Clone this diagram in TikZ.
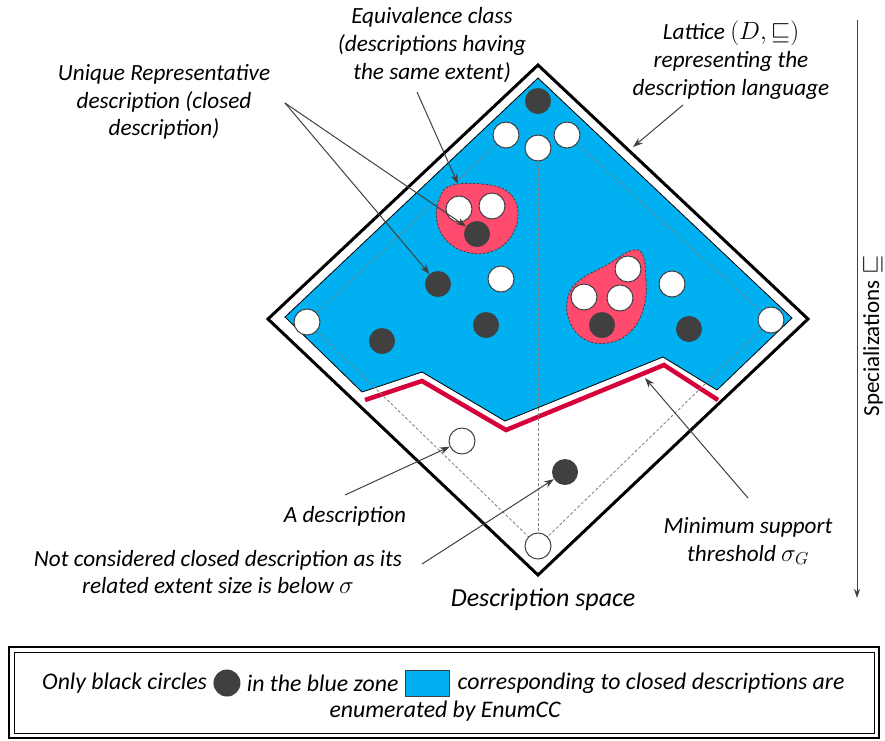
\documentclass[tikz,border=0pt]{standalone}
\usepackage{fontspec}
\setmainfont{Carlito}
\usetikzlibrary{arrows.meta,positioning}
\definecolor{dgray}{HTML}{404040}
\definecolor{skyb}{HTML}{00B0F0}
\definecolor{blobred}{HTML}{FF4B6E}
\definecolor{linered}{HTML}{D6003A}
\tikzset{
  wc/.style={circle, draw=dgray, fill=white, line width=1pt, minimum size=26pt, inner sep=0pt},
  bc/.style={circle, fill=dgray, minimum size=26pt, inner sep=0pt},
  lab/.style={font=\itshape\fontsize{23.2}{27.8}\selectfont, align=center, inner sep=0pt},
  leg/.style={font=\itshape\fontsize{23.8}{27.8}\selectfont, align=center, inner sep=0pt},
  arr/.style={draw=dgray, line width=1pt, -{Stealth[length=10pt,width=7pt]}},
  dl/.style={draw=gray, line width=0.8pt, dash pattern=on 3pt off 2pt},
}
\begin{document}
\begin{tikzpicture}[x=1pt,y=-1pt]
\useasboundingbox (0,0) rectangle (885,740);
% circle centres
\coordinate (pBt) at (538,101);
\coordinate (pW1) at (506,135);
\coordinate (pW2) at (538,148);
\coordinate (pW3) at (567,135);
\coordinate (pWL) at (307,322);
\coordinate (pWR) at (771,320);
\coordinate (pWB) at (538,546);
% outer diamond
\draw[line width=3pt, line join=miter] (538,65) -- (808,319) -- (538,575) -- (268,319) -- cycle;
% blue zone
\filldraw[fill=skyb, draw=black, line width=0.8pt] (538,78) -- (792,318) -- (717,390) -- (663,357) -- (505,421) -- (422,372) -- (362,392) -- (285,317) -- cycle;
% red threshold line
\draw[linered, line width=4.5pt] (365,400) -- (422,381) -- (506,430) -- (664,365) -- (718,400);
% dashed lattice lines
\draw[dl] (pW1) -- (pWL) -- (pWB) -- (pWR) -- (pW3);
\draw[dl] (pW2) -- (pWB);
% equivalence blobs
\draw[fill=blobred, draw=dgray, line width=0.8pt, dash pattern=on 2.5pt off 1.5pt]
  plot[smooth cycle, tension=0.7] coordinates {(450,186) (482,184) (508,192) (518,213) (510,238) (490,252) (466,252) (446,240) (437,221) (439,200)};
\draw[fill=blobred, draw=dgray, line width=0.8pt, dash pattern=on 2.5pt off 1.5pt]
  plot[smooth cycle, tension=0.7] coordinates {(638,250) (646,280) (643,310) (630,332) (608,343) (584,339) (569,320) (568,297) (580,280) (605,266)};
% circles
\node[bc] (bt) at (pBt) {};
\node[wc] (w1) at (pW1) {};
\node[wc] (w2) at (pW2) {};
\node[wc] (w3) at (pW3) {};
\node[wc] (e1) at (459,209) {};
\node[wc] (e2) at (492,206) {};
\node[bc] (e3) at (477,234) {};
\node[bc] (b1) at (438,284) {};
\node[wc] (w4) at (501,279) {};
\node[wc] (wl) at (pWL) {};
\node[bc] (b2) at (382,341) {};
\node[bc] (b3) at (486,325) {};
\node[wc] (f1) at (628,269) {};
\node[wc] (f2) at (584,297) {};
\node[wc] (f3) at (620,298) {};
\node[bc] (f4) at (602,325) {};
\node[wc] (w5) at (672,284) {};
\node[bc] (b4) at (689,329) {};
\node[wc] (wr) at (pWR) {};
\node[wc] (w6) at (462,441) {};
\node[bc] (b5) at (565,472) {};
\node[wc] (wb) at (pWB) {};
% labels
\node[lab] (lequiv) at (432,45) {Equivalence class\\(descriptions having\\the same extent)};
\node[lab] (luniq) at (164,102) {Unique Representative\\description (closed\\description)};
\node[lab] (llat) at (731,60) {Lattice $(D,\sqsubseteq)$\\representing the\\description language};
\node[lab] (ldesc) at (345,516) {A description};
\node[lab] (lnot) at (218,572) {Not considered closed description as its\\related extent size is below $\sigma$};
\node[lab] (lmin) at (748,541) {Minimum support\\threshold $\sigma_G$};
\node[lab, font=\itshape\fontsize{26}{30}\selectfont] (lspace) at (543,600) {Description space};
% arrow anchors
\coordinate (u0) at (285,103);
\coordinate (q0) at (417,92);
\coordinate (q1) at (458,184);
\coordinate (l0) at (683,105);
\coordinate (l1) at (633,147);
\coordinate (a0) at (345,495);
\coordinate (n0) at (422,564);
\coordinate (m0) at (748,498);
\coordinate (m1) at (645,378);
\draw[arr] (u0) -- (e3);
\draw[arr] (u0) -- (b1);
\draw[arr] (q0) -- (q1);
\draw[arr] (l0) -- (l1);
\draw[arr] (a0) -- (w6);
\draw[arr] (n0) -- (b5);
\draw[arr] (m0) -- (m1);
% specialization axis
\coordinate (s0) at (857,20);
\coordinate (s1) at (857,598);
\draw[draw=dgray, line width=1pt, -{Stealth[length=9pt,width=6pt]}] (s0) -- (s1);
\node[font=\fontsize{23}{26}\selectfont, rotate=90, inner sep=0pt] (lspec) at (873,336) {Specializations $\sqsubseteq$};
% legend box
\draw[line width=2.5pt] (9,647) rectangle (879,738);
\draw[line width=0.8pt] (14,652) rectangle (874,733);
\node[leg, anchor=west] (t1) at (42,683) {Only black circles};
\node[circle, fill=dgray, minimum width=24pt, minimum height=27pt, inner sep=0pt, right=6pt of t1] (lc) {};
\node[leg, right=6pt of lc] (t2) {in the blue zone};
\node[draw=dgray, fill=skyb, line width=0.8pt, minimum width=44pt, minimum height=26pt, inner sep=0pt, right=6pt of t2] (ls) {};
\node[leg, right=8pt of ls] (t3) {corresponding to closed descriptions are};
\node[leg] (t4) at (445,711) {enumerated by EnumCC};
\end{tikzpicture}
\end{document}
